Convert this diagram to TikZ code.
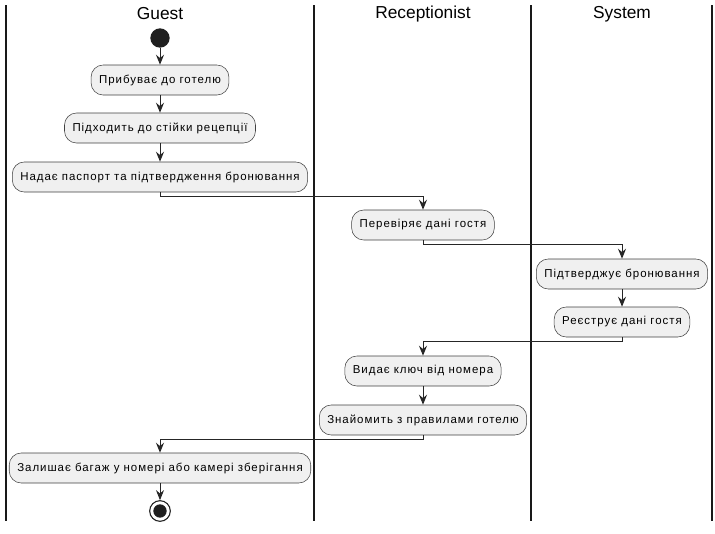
\documentclass[tikz,border=0pt]{standalone}
\usepackage{fontspec}
\setmainfont{Liberation Sans}
\usetikzlibrary{arrows.meta}
\begin{document}
\begin{tikzpicture}[x=0.75pt,y=-0.75pt,
  act/.style={draw=black!75,line width=0.4pt,fill=black!6,rounded corners=9pt,
    minimum height=22.5pt,inner xsep=6pt,font=\fontsize{8.6pt}{10pt}\selectfont\addfontfeature{LetterSpace=8.5}},
  lane/.style={line width=1pt,black!90},
  title/.style={font=\fontsize{13pt}{15pt}\selectfont},
  flow/.style={draw=black!85,line width=0.7pt,-{Stealth[length=7.5pt,width=6pt,inset=2.5pt]}}]
\useasboundingbox (0,0) rectangle (715,533);
% lanes
\foreach \x/\n in {6/l0,314/l1,531/l2,712/l3}{\draw[lane] (\x,5) -- (\x,521);}
\node[title] (tg) at (160,14) {Guest};
\node[title] (tr) at (423,14) {Receptionist};
\node[title] (ts) at (622,14) {System};
% nodes
\node[circle,fill=black!88,minimum size=14.5pt,inner sep=0pt] (start) at (160,38) {};
\node[act] (a1) at (160,80) {Прибуває до готелю};
\node[act] (a2) at (160,128) {Підходить до стійки рецепції};
\node[act] (a3) at (160,177) {Надає паспорт та підтвердження бронювання};
\node[act] (a4) at (423,225) {Перевіряє дані гостя};
\node[act] (a5) at (622,274) {Підтверджує бронювання};
\node[act] (a6) at (622,322) {Реєструє дані гостя};
\node[act] (a7) at (423,371) {Видає ключ від номера};
\node[act] (a8) at (423,420) {Знайомить з правилами готелю};
\node[act] (a9) at (160,468) {Залишає багаж у номері або камері зберігання};
\node[circle,draw=black!88,line width=0.8pt,minimum size=15.5pt,inner sep=0pt] (stop) at (160,511) {};
\node[circle,fill=black!88,minimum size=10pt,inner sep=0pt] at (stop) {};
% flows
\draw[flow] (start) -- (a1);
\draw[flow] (a1) -- (a2);
\draw[flow] (a2) -- (a3);
\draw[flow] (a3.south) -- ++(0,4) -| (a4.north);
\draw[flow] (a4.south) -- ++(0,4) -| (a5.north);
\draw[flow] (a5) -- (a6);
\draw[flow] (a6.south) -- ++(0,4) -| (a7.north);
\draw[flow] (a7) -- (a8);
\draw[flow] (a8.south) -- ++(0,4) -| (a9.north);
\draw[flow] (a9) -- (stop);
\end{tikzpicture}
\end{document}
